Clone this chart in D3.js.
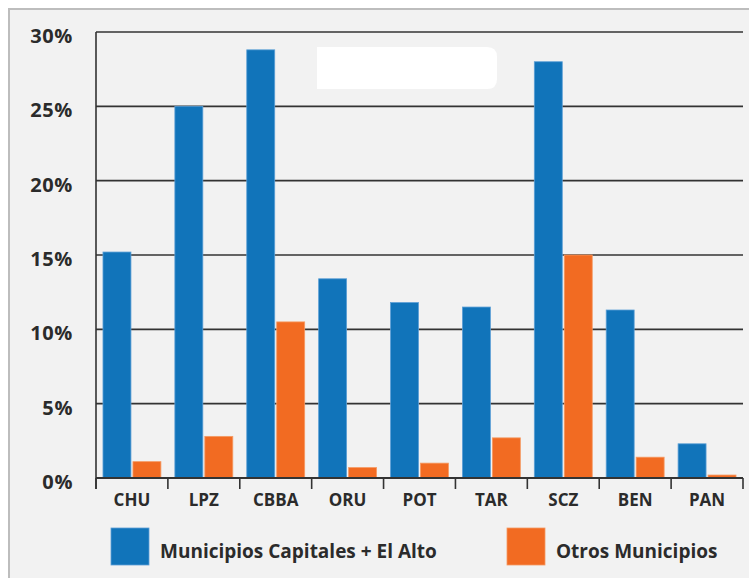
<!DOCTYPE html>
<html>
<head>
<meta charset="utf-8">
<script src="https://cdn.jsdelivr.net/npm/d3@7"></script>
<style>
  html, body { margin: 0; padding: 0; background: #ffffff; }
  svg { display: block; }
  text { font-family: "Open Sans", "Noto Sans", sans-serif; font-weight: 700; fill: #2b2b2b; }
</style>
</head>
<body>
<svg id="chart" width="749" height="578"></svg>
<script>
const categories = ["CHU", "LPZ", "CBBA", "ORU", "POT", "TAR", "SCZ", "BEN", "PAN"];
const seriesNames = ["Municipios Capitales + El Alto", "Otros Municipios"];
const capitales = [15.2, 25.0, 28.8, 13.4, 11.8, 11.5, 28.0, 11.3, 2.3];
const otros = [1.1, 2.8, 10.5, 0.7, 1.0, 2.7, 15.0, 1.4, 0.2];
const yTicks = [0, 5, 10, 15, 20, 25, 30];
const colors = ["#1174ba", "#f26b22"];
const strokeColors = ["#5c9fd6", "#f59a63"];

const svg = d3.select("#chart");

// panel background
svg.append("rect")
  .attr("x", 9).attr("y", 9)
  .attr("width", 760).attr("height", 600)
  .attr("fill", "#f2f2f2")
  .attr("stroke", "#bdbdbd").attr("stroke-width", 2);

const plot = { left: 96, right: 743, top: 32, bottom: 478 };

const x0 = d3.scaleBand().domain(categories).range([plot.left, plot.right]).padding(0);
const x1 = d3.scaleBand().domain([0, 1]).range([0, x0.bandwidth()])
  .paddingInner(0.067).paddingOuter(0.233);
const y = d3.scaleLinear().domain([0, 30]).range([plot.bottom, plot.top]);

// gridlines
svg.append("g")
  .selectAll("line")
  .data(yTicks.filter(d => d > 0))
  .join("line")
  .attr("x1", plot.left).attr("x2", plot.right)
  .attr("y1", d => y(d)).attr("y2", d => y(d))
  .attr("stroke", "#333").attr("stroke-width", 1.6);

// white rounded box (label placeholder)
svg.append("path")
  .attr("d", "M317,47 H487 Q497,47 497,57 V79 Q497,89 487,89 H317 Z")
  .attr("fill", "#ffffff");

// bars
const data = categories.map((c, i) => ({ cat: c, vals: [capitales[i], otros[i]] }));
const groups = svg.append("g").selectAll("g")
  .data(data).join("g")
  .attr("transform", d => `translate(${x0(d.cat)},0)`);
groups.selectAll("rect")
  .data(d => d.vals.map((v, k) => ({ k, v })))
  .join("rect")
  .attr("x", d => x1(d.k))
  .attr("width", x1.bandwidth())
  .attr("y", d => y(d.v))
  .attr("height", d => y(0) - y(d.v))
  .attr("fill", d => colors[d.k])
  .attr("stroke", d => strokeColors[d.k])
  .attr("stroke-width", 0.8);

// y axis line
svg.append("line")
  .attr("x1", plot.left).attr("x2", plot.left)
  .attr("y1", plot.top).attr("y2", plot.bottom + 11)
  .attr("stroke", "#333").attr("stroke-width", 1.6);

// x axis
const xAxis = d3.axisBottom(x0).tickSize(0).tickPadding(0);
const gx = svg.append("g").attr("transform", `translate(0,${plot.bottom})`);
gx.call(xAxis);
gx.select(".domain").remove();
gx.selectAll("text")
  .attr("y", 28)
  .attr("dy", null)
  .style("font-size", "17px")
  .attr("fill", "#2b2b2b");
// boundary ticks
const bounds = categories.map(c => x0(c)).concat([plot.right]);
svg.append("g").selectAll("line")
  .data(bounds).join("line")
  .attr("x1", d => d).attr("x2", d => d)
  .attr("y1", plot.bottom).attr("y2", plot.bottom + 11)
  .attr("stroke", "#333").attr("stroke-width", 1.6);
svg.append("line")
  .attr("x1", plot.left).attr("x2", plot.right)
  .attr("y1", plot.bottom).attr("y2", plot.bottom)
  .attr("stroke", "#333").attr("stroke-width", 1.8);

// y axis labels
const yAxis = d3.axisLeft(y).tickValues(yTicks).tickSize(0).tickPadding(0)
  .tickFormat(d => d + "%");
const gy = svg.append("g").attr("transform", "translate(73,4)");
gy.call(yAxis);
gy.select(".domain").remove();
gy.selectAll("text")
  .style("font-size", "20px")
  .style("letter-spacing", "0.6px")
  .attr("fill", "#2b2b2b");

// legend
const legendItems = [
  { name: seriesNames[0], color: colors[0], stroke: strokeColors[0], sx: 111, tx: 160 },
  { name: seriesNames[1], color: colors[1], stroke: strokeColors[1], sx: 507, tx: 556 }
];
const lg = svg.append("g");
lg.selectAll("rect").data(legendItems).join("rect")
  .attr("x", d => d.sx).attr("y", 528)
  .attr("width", 38).attr("height", 37)
  .attr("fill", d => d.color)
  .attr("stroke", d => d.stroke).attr("stroke-width", 0.8);
lg.selectAll("text").data(legendItems).join("text")
  .attr("x", d => d.tx).attr("y", 558)
  .style("font-size", "19px")
  .text(d => d.name);
</script>
</body>
</html>
